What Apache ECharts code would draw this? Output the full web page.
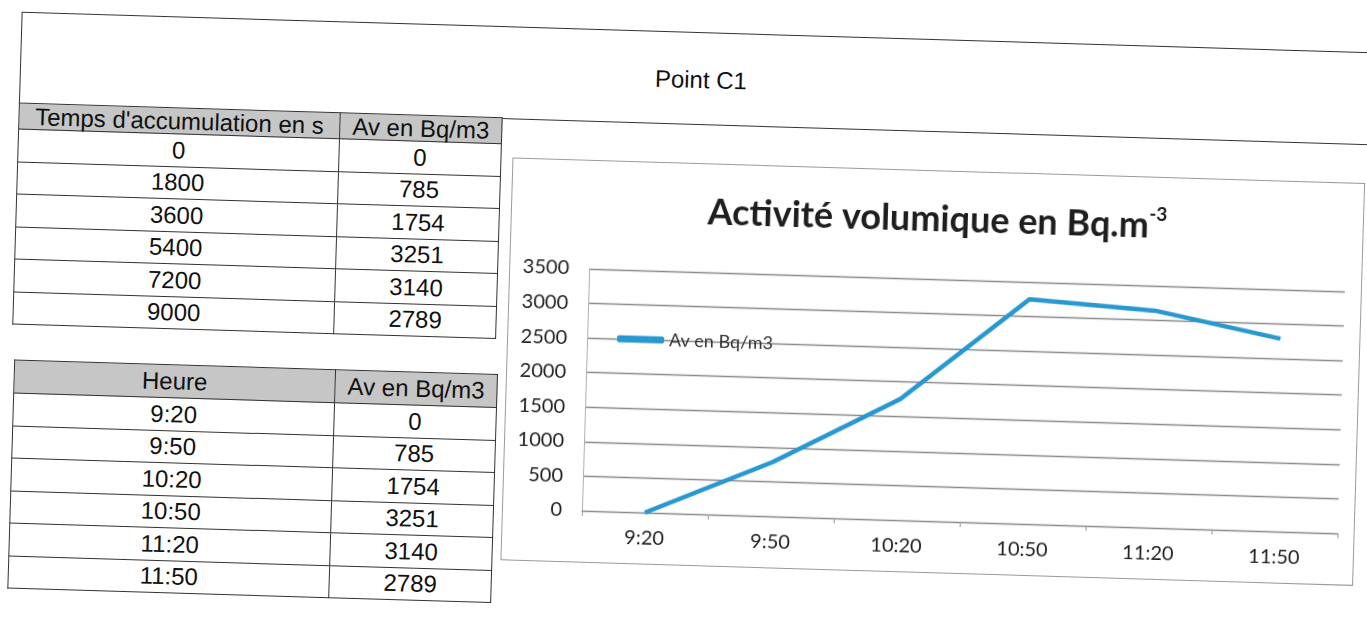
<!DOCTYPE html>
<html>
<head>
<meta charset="utf-8">
<title>Point C1</title>
<script src="https://cdn.jsdelivr.net/npm/echarts@6.0.0/dist/echarts.min.js"></script>
<style>
  html, body { margin: 0; padding: 0; background: #fff; width: 1367px; height: 630px; overflow: hidden; }
  /* the sheet was scanned slightly tilted */
  #page { position: absolute; left: 0; top: 0; width: 1460px; height: 720px; transform-origin: 0 0; transform: rotate(1.72deg);
          font-family: 'Liberation Sans', Arial, sans-serif; color: #111; }
  #head { position: absolute; left: 22px; top: 11px; width: 1420px; height: 93px; border: 1.5px solid #333; box-sizing: border-box; }
  #headTitle { position: absolute; left: 603px; top: 45px; width: 200px; text-align: center; font-size: 24px; }
  table.tab { position: absolute; border-collapse: collapse; font-size: 24px; background: #fff; }
  table.tab td, table.tab th { border: 1.5px solid #333; text-align: center; padding: 0; font-weight: normal; line-height: 24px; }
  table.tab th { background: #c6c6c6; }
  #tab1 { left: 22px; top: 102px; }
  #tab2 { left: 25px; top: 359px; }
  #chart { position: absolute; left: 517px; top: 142px; width: 853px; height: 403px; border: 1.5px solid #9a9a9a; box-sizing: border-box; background: #fff; }
</style>
</head>
<body>
<div id="page">
  <div id="head"></div>
  <div id="headTitle">Point C1</div>
  <table class="tab" id="tab1"></table>
  <table class="tab" id="tab2"></table>
  <div id="chart"></div>
</div>
<script>
// données relevées au point C1
const heures = ['9:20', '9:50', '10:20', '10:50', '11:20', '11:50'];
const tempsAccumulation = [0, 1800, 3600, 5400, 7200, 9000];
const activite = [0, 785, 1754, 3251, 3140, 2789];
const serieNom = 'Av en Bq/m3';

// tableaux à gauche
function remplirTableau(id, enTete, colonne, hauteurEnTete) {
  const tab = document.getElementById(id);
  let html = '<colgroup><col style="width:321px"><col style="width:162px"></colgroup>';
  html += '<tr style="height:' + hauteurEnTete + 'px"><th>' + enTete + '</th><th>' + serieNom + '</th></tr>';
  for (let i = 0; i < colonne.length; i++) {
    html += '<tr style="height:32.5px"><td>' + colonne[i] + '</td><td>' + activite[i] + '</td></tr>';
  }
  tab.innerHTML = html;
}
remplirTableau('tab1', "Temps d'accumulation en s", tempsAccumulation, 26);
remplirTableau('tab2', 'Heure', heures, 33);

// graphique
const chart = echarts.init(document.getElementById('chart'));
chart.setOption({
  animation: false,
  title: {
    text: '{a|Activité volumique en Bq.m}{s|-3}',
    left: 'center',
    top: 22,
    textStyle: {
      rich: {
        a: { fontFamily: 'Lato', fontWeight: 'bold', fontSize: 36, color: '#1e1e1e', lineHeight: 42 },
        s: { fontFamily: 'Lato', fontWeight: 'bold', fontSize: 19, color: '#1e1e1e', lineHeight: 22, verticalAlign: 'top' }
      }
    }
  },
  legend: {
    left: 104,
    top: 163,
    itemWidth: 47,
    itemHeight: 7,
    icon: 'roundRect',
    textStyle: { fontFamily: 'Lato', fontSize: 18, color: '#333' },
    data: [serieNom]
  },
  grid: { left: 79, top: 108, width: 756, height: 242, outerBoundsMode: 'none' },
  xAxis: [{
    type: 'category',
    data: heures,
    boundaryGap: true,
    axisLine: { lineStyle: { color: '#8a8a8a', width: 1.2 } },
    axisTick: { show: true, length: 5, lineStyle: { color: '#9a9a9a' } },
    axisLabel: { fontFamily: 'Lato', fontSize: 20, color: '#1e1e1e', margin: 16 }
  }],
  yAxis: [{
    type: 'value',
    min: 0,
    max: 3500,
    interval: 500,
    axisLine: { show: true, lineStyle: { color: '#b0b0b0', width: 1 } },
    axisTick: { show: false },
    axisLabel: { fontFamily: 'Lato', fontSize: 20, color: '#1e1e1e', margin: 20, formatter: v => String(v) },
    splitLine: { lineStyle: { color: '#8a8a8a', width: 1.3 } }
  }],
  series: [{
    name: serieNom,
    type: 'line',
    data: activite,
    symbol: 'none',
    lineStyle: { color: '#2898d0', width: 4.5 },
    itemStyle: { color: '#2898d0' }
  }]
});
</script>
</body>
</html>
